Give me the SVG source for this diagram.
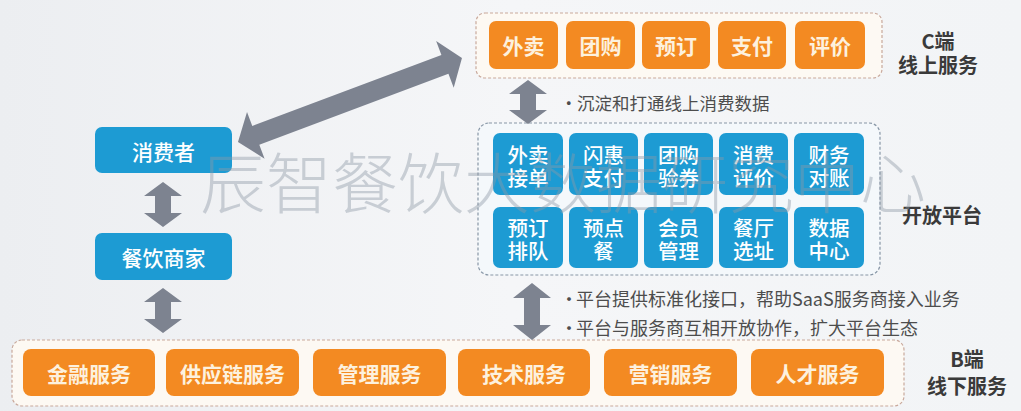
<svg xmlns="http://www.w3.org/2000/svg" width="1021" height="411" viewBox="0 0 1021 411">
<defs>
<linearGradient id="bg" x1="0" y1="0" x2="1" y2="0">
<stop offset="0" stop-color="#eceef1"/>
<stop offset="0.5" stop-color="#f5f6f8"/>
<stop offset="1" stop-color="#f2f4f6"/>
</linearGradient>
<style>
.t{font-family:"Noto Sans CJK SC","Noto Sans",sans-serif;}
.ob{fill:#f38a22;}
.bb{fill:#1d9bd3;}
.ot{fill:#fdf1de;font-size:21px;font-weight:bold;text-anchor:middle;dominant-baseline:central;}
.bt{fill:#ffffff;font-size:20.5px;font-weight:500;text-anchor:middle;dominant-baseline:central;}
.side{fill:#3a3a3a;font-size:20px;font-weight:bold;text-anchor:middle;dominant-baseline:central;}
.note{fill:#4d4d4d;font-size:17.5px;dominant-baseline:central;}
.note2{fill:#4d4d4d;font-size:18px;dominant-baseline:central;}
.arr{fill:#7d8390;}
.oc{fill:#fdf9f3;stroke:#c9a99c;stroke-width:1.2;stroke-dasharray:3 2;}
.bc{fill:#f4f8fb;stroke:#8796a6;stroke-width:1.2;stroke-dasharray:3 2;}
</style>
</defs>
<rect x="0" y="0" width="1021" height="411" fill="url(#bg)"/>

<g id="c-end-group">
<rect class="oc" x="476" y="13" width="406" height="65" rx="9"/>
</g>
<g id="c1"><rect class="ob" x="489" y="21" width="69" height="48" rx="7"/><text class="t ot" x="523.5" y="45">外卖</text></g>
<g id="c2"><rect class="ob" x="566" y="21" width="69" height="48" rx="7"/><text class="t ot" x="600.5" y="45">团购</text></g>
<g id="c3"><rect class="ob" x="642" y="21" width="68" height="48" rx="7"/><text class="t ot" x="676" y="45">预订</text></g>
<g id="c4"><rect class="ob" x="718" y="21" width="68" height="48" rx="7"/><text class="t ot" x="752" y="45">支付</text></g>
<g id="c5"><rect class="ob" x="795" y="21" width="70" height="48" rx="7"/><text class="t ot" x="830" y="45">评价</text></g>
<g id="c-label"><text class="t side" x="938" y="40">C端</text><text class="t side" x="938" y="64">线上服务</text></g>

<g id="platform-group">
<rect class="bc" x="478" y="123" width="402" height="152" rx="11"/>
</g>
<g id="p1"><rect class="bb" x="493" y="133" width="70" height="62" rx="7"/><text class="t bt" x="528" y="154">外卖</text><text class="t bt" x="528" y="177">接单</text></g>
<g id="p2"><rect class="bb" x="569" y="133" width="69" height="62" rx="7"/><text class="t bt" x="603.5" y="154">闪惠</text><text class="t bt" x="603.5" y="177">支付</text></g>
<g id="p3"><rect class="bb" x="644" y="133" width="69" height="62" rx="7"/><text class="t bt" x="678.5" y="154">团购</text><text class="t bt" x="678.5" y="177">验券</text></g>
<g id="p4"><rect class="bb" x="719" y="133" width="69" height="62" rx="7"/><text class="t bt" x="753.5" y="154">消费</text><text class="t bt" x="753.5" y="177">评价</text></g>
<g id="p5"><rect class="bb" x="794" y="133" width="70" height="62" rx="7"/><text class="t bt" x="829" y="154">财务</text><text class="t bt" x="829" y="177">对账</text></g>
<g id="p6"><rect class="bb" x="493" y="207" width="70" height="61" rx="7"/><text class="t bt" x="528" y="227">预订</text><text class="t bt" x="528" y="250">排队</text></g>
<g id="p7"><rect class="bb" x="569" y="207" width="69" height="61" rx="7"/><text class="t bt" x="603.5" y="227">预点</text><text class="t bt" x="603.5" y="250">餐</text></g>
<g id="p8"><rect class="bb" x="644" y="207" width="69" height="61" rx="7"/><text class="t bt" x="678.5" y="227">会员</text><text class="t bt" x="678.5" y="250">管理</text></g>
<g id="p9"><rect class="bb" x="719" y="207" width="69" height="61" rx="7"/><text class="t bt" x="753.5" y="227">餐厅</text><text class="t bt" x="753.5" y="250">选址</text></g>
<g id="p10"><rect class="bb" x="794" y="207" width="70" height="61" rx="7"/><text class="t bt" x="829" y="227">数据</text><text class="t bt" x="829" y="250">中心</text></g>
<g id="platform-label"><text class="t side" x="942" y="214">开放平台</text></g>

<g id="consumer"><rect class="bb" x="95" y="127" width="137" height="46" rx="7"/><text class="t bt" x="163.5" y="151" style="font-size:21px">消费者</text></g>
<g id="merchant"><rect class="bb" x="95" y="233" width="137" height="47" rx="7"/><text class="t bt" x="163.5" y="257" style="font-size:21px">餐饮商家</text></g>

<g id="b-end-group">
<rect class="oc" x="12" y="340" width="892" height="66" rx="10"/>
</g>
<g id="b1"><rect class="ob" x="23" y="349" width="132" height="47" rx="8"/><text class="t ot" x="89" y="373">金融服务</text></g>
<g id="b2"><rect class="ob" x="166" y="349" width="133" height="47" rx="8"/><text class="t ot" x="232.5" y="373">供应链服务</text></g>
<g id="b3"><rect class="ob" x="313" y="349" width="133" height="47" rx="8"/><text class="t ot" x="379.5" y="373">管理服务</text></g>
<g id="b4"><rect class="ob" x="458" y="349" width="132" height="47" rx="8"/><text class="t ot" x="524" y="373">技术服务</text></g>
<g id="b5"><rect class="ob" x="604" y="349" width="133" height="47" rx="8"/><text class="t ot" x="670.5" y="373">营销服务</text></g>
<g id="b6"><rect class="ob" x="751" y="349" width="133" height="47" rx="8"/><text class="t ot" x="817.5" y="373">人才服务</text></g>
<g id="b-label"><text class="t side" x="967" y="358">B端</text><text class="t side" x="967" y="385">线下服务</text></g>

<g id="connectors">
<polygon class="arr" transform="translate(238,142) rotate(-20.56)" points="0,0 19,-25 19,-10 221,-10 221,-25 239.2,0 221,25 221,10 19,10 19,25"/>
<polygon class="arr" points="163,182 182,196 171,196 171,213 182,213 163,227 144,213 155,213 155,196 144,196"/>
<polygon class="arr" points="163,288 182,302 171,302 171,319 182,319 163,333 144,319 155,319 155,302 144,302"/>
<polygon class="arr" points="528,80 547,94 536,94 536,110 547,110 528,124 509,110 520,110 520,94 509,94"/>
<polygon class="arr" points="532,283 551,298 540,298 540,325 551,325 532,340 513,325 524,325 524,298 513,298"/>
</g>

<g id="notes">
<text class="t note" x="560" y="102">•</text><text class="t note" x="577" y="102">沉淀和打通线上消费数据</text>
<text class="t note2" x="560" y="298">•</text><text class="t note2" x="576" y="298">平台提供标准化接口，帮助SaaS服务商接入业务</text>
<text class="t note2" x="560" y="327">•</text><text class="t note2" x="576" y="327">平台与服务商互相开放协作，扩大平台生态</text>
</g>

<g id="watermark">
<text class="t" x="200" y="208" style="font-size:66px;font-weight:300;fill:#8e99a6;opacity:0.42">辰智餐饮大数据研究中心</text>
</g>
</svg>
